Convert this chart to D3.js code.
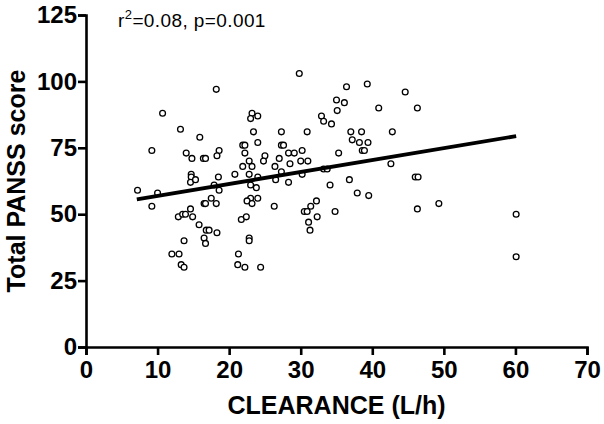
<!DOCTYPE html>
<html lang="en">
<head>
<meta charset="utf-8">
<title>PANSS vs clearance</title>
<script src="https://cdnjs.cloudflare.com/ajax/libs/d3/7.8.5/d3.min.js"></script>
<style>
  body { margin: 0; background: #fff; }
  svg { display: block; font-family: "Liberation Sans", Arial, sans-serif; }
</style>
</head>
<body>
<div id="chart"></div>
<script>
// clearance (L/h) and total PANSS score
var clearance = [18.2,10.7,13.2,15.9,9.2,14.0,14.8,16.4,16.7,18.6,18.3,23.2,23.0,24.0,23.4,24.0,21.9,22.2,22.2,22.8,
  21.9,23.2,29.8,36.4,39.3,44.6,35.0,36.1,35.1,40.9,46.3,32.9,33.2,34.3,27.3,30.9,37.0,38.5,42.8,27.3,
  27.6,37.2,38.2,39.4,38.6,38.9,35.3,25.0,24.8,27.0,28.3,29.1,30.2,30.0,31.0,28.5,26.4,42.6,7.2,10.0,
  9.2,14.7,14.7,14.6,15.3,18.5,17.9,18.6,20.8,22.8,24.0,23.0,23.8,23.0,22.5,23.2,24.0,17.5,16.5,16.7,
  18.2,14.6,12.9,13.5,13.9,14.9,21.7,22.4,15.8,16.8,17.2,18.3,16.5,16.7,13.7,22.8,22.8,12.0,13.0,21.3,
  13.3,13.7,21.2,22.2,24.4,27.3,26.5,28.3,30.2,33.2,33.7,36.8,34.1,37.9,39.5,46.0,46.4,46.3,32.2,31.4,
  26.3,30.5,30.9,34.8,32.3,31.1,31.3,49.3,60.1,60.1];
var panss = [97,88,82,79,74,73,71,71,71,74,72,88,86,87,81,77,76,76,73,70,
  68,68,103,98,99,96,93,92,89,90,90,87,85,84,81,81,81,81,81,76,
  76,78,77,77,74,74,73,72,70,71,73,73,74,70,70,69,68,69,59,58,
  53,65,64,62,63,64,61,59,65,65,64,61,60,56,55,54,56,56,54,54,
  54,52,49,50,50,49,48,49,46,44,44,43,41,39,40,41,40,35,35,35,
  31,30,31,30,30,66,63,62,65,67,67,63,61,58,57,64,64,52,55,53,
  53,51,51,51,49,47,44,54,50,34];

// fitted regression line ends
var fitX = [7.1, 60.1];
var fitY = [55.6, 79.4];

var xTicks = [0, 10, 20, 30, 40, 50, 60, 70];
var yTicks = [0, 25, 50, 75, 100, 125];

var width = 604, height = 424;
var margin = {top: 15, right: 17, bottom: 77, left: 86};
var w = width - margin.left - margin.right;
var h = height - margin.top - margin.bottom;

var svg = d3.select("#chart").append("svg").attr("width", width).attr("height", height);
var g = svg.append("g").attr("transform", "translate(" + margin.left + "," + margin.top + ")");

var x = d3.scaleLinear().domain([0, 70]).range([0, w]);
var y = d3.scaleLinear().domain([0, 125]).range([h, 0]);

var xAxis = g.append("g").attr("transform", "translate(0," + h + ")")
  .call(d3.axisBottom(x).tickValues(xTicks).tickSize(8).tickPadding(6));
var yAxis = g.append("g")
  .call(d3.axisLeft(y).tickValues(yTicks).tickSize(8).tickPadding(1));

[xAxis, yAxis].forEach(function(a) {
  a.select(".domain").attr("stroke", "#000").attr("stroke-width", 2.6);
  a.selectAll(".tick line").attr("stroke", "#000").attr("stroke-width", 2.6);
  a.selectAll(".tick text").attr("fill", "#000").attr("font-size", "24px")
    .attr("font-weight", "bold").attr("font-family", "Liberation Sans, Arial, sans-serif");
});

// points
var pts = clearance.map(function(c, i) { return [c, panss[i]]; });
g.selectAll("circle.pt").data(pts).enter().append("circle")
  .attr("class", "pt")
  .attr("cx", function(d) { return x(d[0]); })
  .attr("cy", function(d) { return y(d[1]); })
  .attr("r", 2.9)
  .attr("fill", "#fff")
  .attr("stroke", "#000")
  .attr("stroke-width", 1.3);

// regression line
var line = d3.line().x(function(d) { return x(d[0]); }).y(function(d) { return y(d[1]); });
g.append("path").datum(fitX.map(function(v, i) { return [v, fitY[i]]; }))
  .attr("d", line).attr("fill", "none").attr("stroke", "#000").attr("stroke-width", 3.8);

// annotation
var ann = svg.append("text").attr("x", 118).attr("y", 27).attr("font-size", "19px")
  .attr("letter-spacing", "0.4px").attr("fill", "#000");
ann.append("tspan").text("r");
ann.append("tspan").attr("font-size", "13px").attr("dy", -8).text("2");
ann.append("tspan").attr("dy", 8).text("=0.08, p=0.001");

// axis titles
svg.append("text").attr("x", margin.left + w / 2).attr("y", 414)
  .attr("text-anchor", "middle").attr("font-size", "25px").attr("font-weight", "bold")
  .text("CLEARANCE (L/h)");
svg.append("text")
  .attr("transform", "translate(25," + (margin.top + h / 2) + ") rotate(-90)")
  .attr("text-anchor", "middle").attr("font-size", "25px").attr("font-weight", "bold")
  .text("Total PANSS score");
</script>
</body>
</html>
